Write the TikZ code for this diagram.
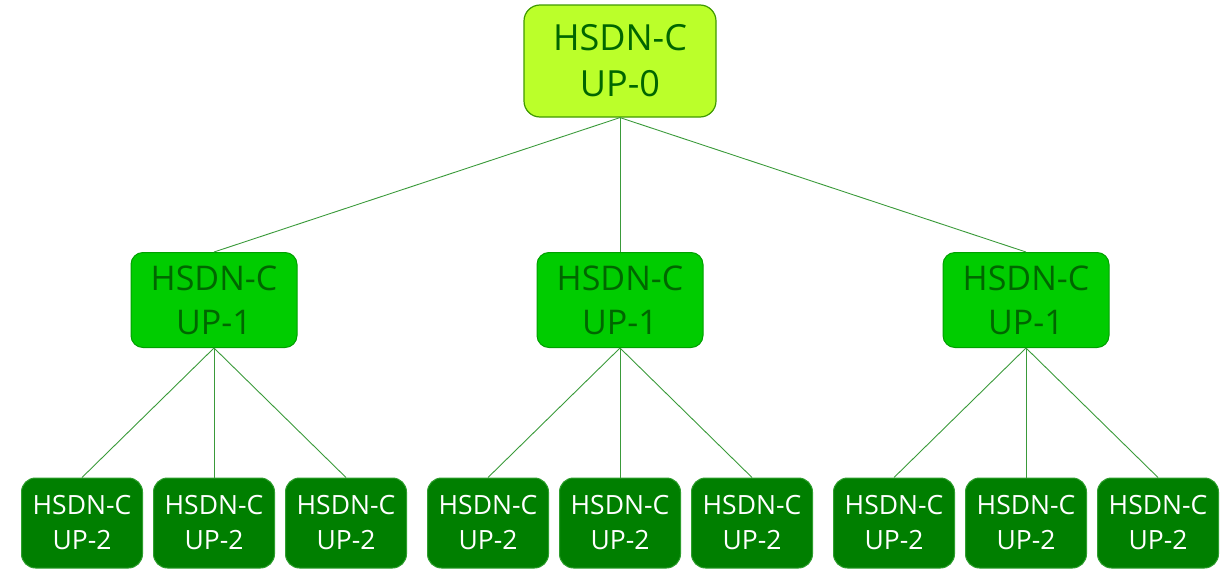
\documentclass[tikz,border=0pt]{standalone}
\usepackage{fontspec}
\setmainfont{Open Sans}
\definecolor{limefill}{HTML}{BBFF2A}
\definecolor{limeline}{HTML}{3F9A00}
\definecolor{midfill}{HTML}{00CC00}
\definecolor{midline}{HTML}{00A000}
\definecolor{leaffill}{HTML}{007F00}
\definecolor{leafline}{HTML}{2E9E2E}
\definecolor{darktext}{HTML}{006600}
\definecolor{wire}{HTML}{3A9A3A}
\tikzset{
  rootbox/.style={draw=limeline, fill=limefill, line width=1.2pt, rounded corners=16pt,
    minimum width=192pt, minimum height=112pt, align=center, text=darktext,
    font=\fontsize{36}{46}\selectfont, inner sep=0pt},
  midbox/.style={draw=midline, fill=midfill, line width=1pt, rounded corners=12pt,
    minimum width=166pt, minimum height=95pt, align=center, text=darktext,
    font=\fontsize{34}{44}\selectfont, inner sep=0pt},
  leafbox/.style={draw=leafline, fill=leaffill, line width=1pt, rounded corners=14pt,
    minimum width=121pt, minimum height=90pt, align=center, text=white,
    font=\fontsize{26.5}{35}\selectfont, inner sep=0pt},
  wire/.style={draw=wire, line width=0.9pt}
}
\begin{document}
\begin{tikzpicture}[x=1pt, y=-1pt]
  \useasboundingbox (0,0) rectangle (1220,570);
  % top level
  \node[rootbox] (root) at (620,61) {HSDN-C\\UP-0};
  % middle level
  \node[midbox] (m1) at (214,300) {HSDN-C\\UP-1};
  \node[midbox] (m2) at (620,300) {HSDN-C\\UP-1};
  \node[midbox] (m3) at (1026,300) {HSDN-C\\UP-1};
  % bottom level
  \node[leafbox] (l11) at (82,523) {HSDN-C\\UP-2};
  \node[leafbox] (l12) at (214,523) {HSDN-C\\UP-2};
  \node[leafbox] (l13) at (346,523) {HSDN-C\\UP-2};
  \node[leafbox] (l21) at (488,523) {HSDN-C\\UP-2};
  \node[leafbox] (l22) at (620,523) {HSDN-C\\UP-2};
  \node[leafbox] (l23) at (752,523) {HSDN-C\\UP-2};
  \node[leafbox] (l31) at (894,523) {HSDN-C\\UP-2};
  \node[leafbox] (l32) at (1026,523) {HSDN-C\\UP-2};
  \node[leafbox] (l33) at (1158,523) {HSDN-C\\UP-2};
  % links
  \foreach \m in {1,2,3} {
    \draw[wire] (root.south) -- (m\m.north);
    \foreach \l in {1,2,3}
      \draw[wire] (m\m.south) -- (l\m\l.north);
  }
\end{tikzpicture}
\end{document}
